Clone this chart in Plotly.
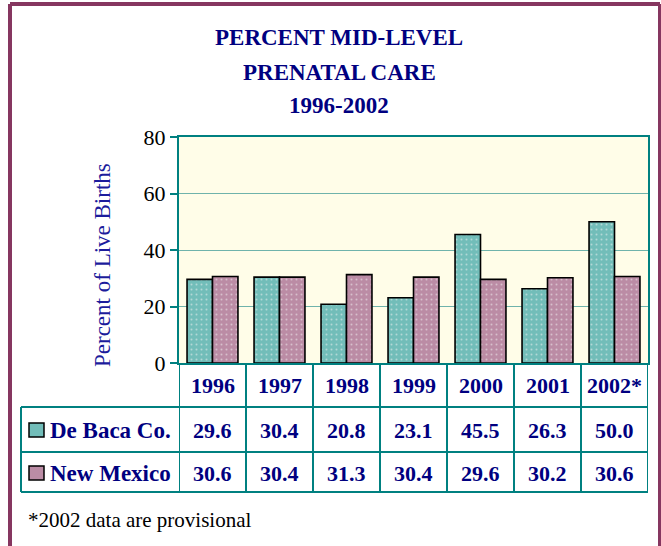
import plotly.graph_objects as go

years = ["1996", "1997", "1998", "1999", "2000", "2001", "2002*"]
de_baca = [29.6, 30.4, 20.8, 23.1, 45.5, 26.3, 50.0]
new_mexico = [30.6, 30.4, 31.3, 30.4, 29.6, 30.2, 30.6]
series_names = ["De Baca Co.", "New Mexico"]
y_ticks = [0, 20, 40, 60, 80]
title_lines = ["PERCENT MID-LEVEL", "PRENATAL CARE", "1996-2002"]
footnote = "*2002 data are provisional"

W, H = 661, 546
L, R, T, B = 179, 13, 137, 183
PW, PH = W - L - R, H - T - B

# pixel -> paper helpers for the layout pieces around the plot
def px(x):
    return (x - L) / PW

def py(y):
    return (H - B - y) / PH

TEAL = "#008080"
NAVY = "#000080"
MAROON = "#863660"
SERIF = "Liberation Serif, Times New Roman, serif"
bar_colors = ["#72bdb9", "#bb8ca5"]

fig = go.Figure()
for name, vals, col in zip(series_names, [de_baca, new_mexico], bar_colors):
    fig.add_trace(go.Bar(
        x=years, y=vals, name=name,
        marker=dict(color=col, line=dict(color="black", width=1.6),
                    pattern=dict(shape=".", fgcolor="#f4f4f4", bgcolor=col,
                                 size=5, solidity=0.12)),
    ))

shapes = []
# table grid
row_lines = [407, 452, 492]
for i in range(len(years) + 1):
    shapes.append(dict(type="line", xref="x", yref="paper", x0=i - 0.5, x1=i - 0.5,
                       y0=0, y1=py(row_lines[-1]), line=dict(color=TEAL, width=2)))
for ry in row_lines:
    shapes.append(dict(type="line", xref="paper", yref="paper", x0=px(21), x1=1,
                       y0=py(ry), y1=py(ry), line=dict(color=TEAL, width=2)))
shapes.append(dict(type="line", xref="paper", yref="paper", x0=px(21), x1=px(21),
                   y0=py(row_lines[0]), y1=py(row_lines[-1]), line=dict(color=TEAL, width=2)))

# legend swatches in table
row_centers = [430, 473]
for rc, col in zip(row_centers, bar_colors):
    shapes.append(dict(type="rect", xref="paper", yref="paper",
                       x0=px(29), x1=px(44), y0=py(rc + 7), y1=py(rc - 7),
                       fillcolor=col, line=dict(color="black", width=1.5)))

# outer frame
for x0, y0, x1, y1 in [(10, 4, 10, 560), (660, 4, 660, 560), (10, 4, 660, 4)]:
    shapes.append(dict(type="line", xref="paper", yref="paper", x0=px(x0), x1=px(x1),
                       y0=py(y0), y1=py(y1), line=dict(color=MAROON, width=4)))

annotations = []
for line, ty in zip(title_lines, [37, 72, 105]):
    annotations.append(dict(text="<b>" + line + "</b>", x=px(339), y=py(ty), xref="paper",
                            yref="paper", showarrow=False, xanchor="center", yanchor="middle",
                            font=dict(family=SERIF, size=23, color=NAVY)))
annotations.append(dict(text="Percent of Live Births", x=px(102), y=py(265), xref="paper",
                        yref="paper", showarrow=False, textangle=-90, xanchor="center",
                        yanchor="middle", font=dict(family=SERIF, size=23, color="#1c1c9c")))
for i, yr in enumerate(years):
    annotations.append(dict(text="<b>" + yr + "</b>", x=i, y=py(385), xref="x", yref="paper",
                            showarrow=False, yanchor="middle",
                            font=dict(family=SERIF, size=22, color=NAVY)))
for name, vals, rc in zip(series_names, [de_baca, new_mexico], row_centers):
    annotations.append(dict(text="<b>" + name + "</b>", x=px(48), y=py(rc), xref="paper",
                            yref="paper", showarrow=False, xanchor="left", yanchor="middle",
                            font=dict(family=SERIF, size=23, color=NAVY)))
    for i, v in enumerate(vals):
        annotations.append(dict(text="<b>%.1f</b>" % v, x=i, y=py(rc), xref="x", yref="paper",
                                showarrow=False, yanchor="middle",
                                font=dict(family=SERIF, size=22, color=NAVY)))
annotations.append(dict(text=footnote, x=px(26), y=py(520), xref="paper", yref="paper",
                        showarrow=False, xanchor="left", yanchor="middle",
                        font=dict(family=SERIF, size=21, color="black")))

fig.update_layout(
    width=W, height=H,
    margin=dict(l=L, r=R, t=T, b=B),
    paper_bgcolor="white", plot_bgcolor="#fffde8",
    showlegend=False,
    barmode="group", bargap=0.24, bargroupgap=0,
    xaxis=dict(type="category", range=[-0.5, len(years) - 0.5], showticklabels=False,
               showline=True, linecolor=TEAL, linewidth=2, mirror=True, showgrid=False,
               ticks=""),
    yaxis=dict(range=[0, 80], tickvals=y_ticks, showline=True, linecolor=TEAL, linewidth=2,
               mirror=True, ticks="outside", ticklen=7, tickwidth=2, tickcolor=TEAL,
               gridcolor="#6fb3ab", gridwidth=1, zeroline=False,
               tickfont=dict(family=SERIF, size=22, color="black")),
    shapes=shapes,
    annotations=annotations,
)

# drop the page's default body margin so the figure sits at the window's corner
fig.write_html("out.html", config={"displayModeBar": False},
               post_script="document.body.style.margin = '0';")
